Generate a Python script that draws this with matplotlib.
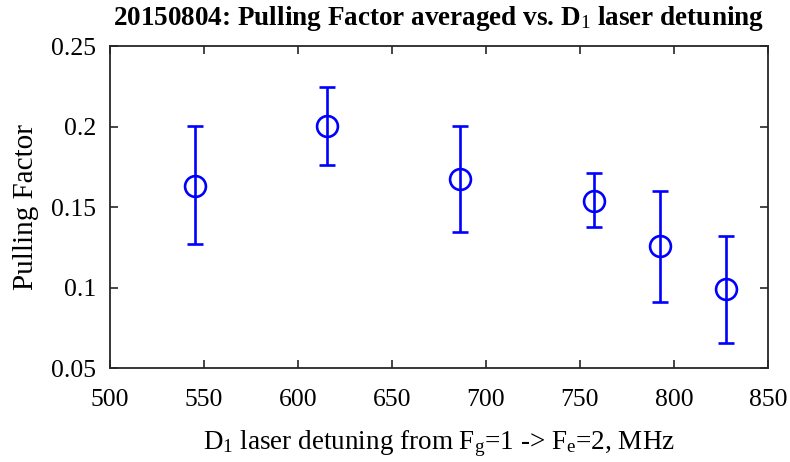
import matplotlib
matplotlib.use('Agg')
import matplotlib.pyplot as plt

plt.rcParams['font.family'] = ['Liberation Serif', 'DejaVu Serif']
plt.rcParams['mathtext.fontset'] = 'custom'
plt.rcParams['mathtext.rm'] = 'Liberation Serif'
plt.rcParams['mathtext.it'] = 'Liberation Serif'
plt.rcParams['mathtext.bf'] = 'Liberation Serif:bold'

detuning = [545.3, 615.6, 686.0, 757.3, 792.5, 827.6]
pulling = [0.163, 0.2005, 0.1675, 0.154, 0.1262, 0.0995]
err_low = [0.036, 0.024, 0.0327, 0.016, 0.0347, 0.0334]
err_high = [0.0372, 0.0241, 0.0328, 0.0174, 0.034, 0.0325]

xticks = [500, 550, 600, 650, 700, 750, 800, 850]
yticks = [0.05, 0.1, 0.15, 0.2, 0.25]
ytick_labels = ['0.05', '0.1', '0.15', '0.2', '0.25']

fig = plt.figure(figsize=(7.9, 4.62), dpi=100)
ax = fig.add_axes([0.139, 0.2024, 0.833, 0.698])

ax.errorbar(detuning, pulling, yerr=[err_low, err_high], fmt='o', color='#0000ff',
            markerfacecolor='none', markersize=15, markeredgewidth=1.9,
            elinewidth=1.9, capsize=5.5, capthick=1.9)

ax.set_xlim(500, 850)
ax.set_ylim(0.05, 0.25)
ax.set_xticks(xticks)
ax.set_yticks(yticks)
ax.set_yticklabels(ytick_labels)
ax.tick_params(direction='in', top=True, right=True, length=6, width=1.2,
               labelsize=18.5, color='#262626')
ax.tick_params(axis='x', pad=15)
ax.tick_params(axis='y', pad=10)
for spine in ax.spines.values():
    spine.set_color('#262626')
    spine.set_linewidth(1.3)

ax.set_title(r'20150804: Pulling Factor averaged vs. D$_1$ laser detuning',
             fontsize=19.5, fontweight='bold', pad=15)
ax.set_xlabel(r'D$_1$ laser detuning from F$_g$=1 -> F$_e$=2, MHz', fontsize=19.5, labelpad=12)
ax.set_ylabel('Pulling Factor', fontsize=21)
ax.yaxis.set_label_coords(-0.108, 0.5)

fig.savefig('out.png', dpi=100)
plt.close(fig)
